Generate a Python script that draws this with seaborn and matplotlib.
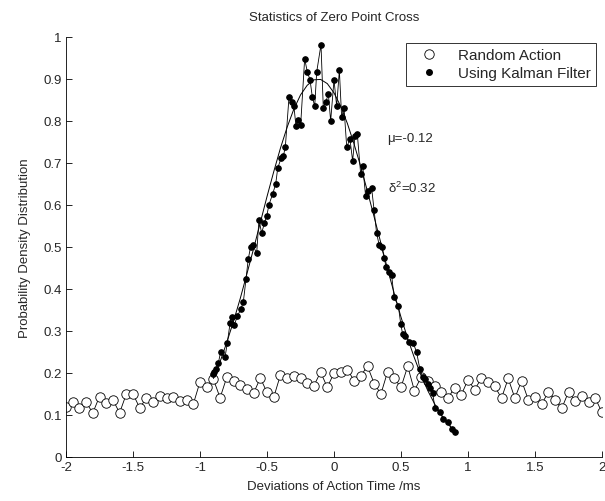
import numpy as np
import pandas as pd
import matplotlib
matplotlib.use("Agg")
import matplotlib.pyplot as plt
import seaborn as sns
from matplotlib.lines import Line2D

# Random action histogram (bin centres and densities)
random_x = [-2.00, -1.95, -1.90, -1.85, -1.80, -1.75, -1.70, -1.65, -1.60, -1.55,
            -1.50, -1.45, -1.40, -1.35, -1.30, -1.25, -1.20, -1.15, -1.10, -1.05,
            -1.00, -0.95, -0.90, -0.85, -0.80, -0.75, -0.70, -0.65, -0.60, -0.55,
            -0.50, -0.45, -0.40, -0.35, -0.30, -0.25, -0.20, -0.15, -0.10, -0.05,
            0.00, 0.05, 0.10, 0.15, 0.20, 0.25, 0.30, 0.35, 0.40, 0.45,
            0.50, 0.55, 0.60, 0.65, 0.70, 0.75, 0.80, 0.85, 0.90, 0.95,
            1.00, 1.05, 1.10, 1.15, 1.20, 1.25, 1.30, 1.35, 1.40, 1.45,
            1.50, 1.55, 1.60, 1.65, 1.70, 1.75, 1.80, 1.85, 1.90, 1.95, 2.00]
random_y = [0.118, 0.132, 0.116, 0.130, 0.105, 0.144, 0.128, 0.136, 0.105, 0.150,
            0.150, 0.117, 0.140, 0.132, 0.146, 0.140, 0.144, 0.133, 0.136, 0.126,
            0.179, 0.167, 0.185, 0.141, 0.190, 0.182, 0.172, 0.162, 0.152, 0.188,
            0.154, 0.142, 0.195, 0.187, 0.192, 0.188, 0.176, 0.170, 0.202, 0.166,
            0.200, 0.203, 0.208, 0.182, 0.194, 0.216, 0.175, 0.150, 0.203, 0.187,
            0.166, 0.216, 0.158, 0.190, 0.180, 0.170, 0.155, 0.140, 0.165, 0.148,
            0.184, 0.160, 0.188, 0.178, 0.168, 0.140, 0.187, 0.140, 0.182, 0.136,
            0.144, 0.126, 0.155, 0.136, 0.116, 0.155, 0.134, 0.146, 0.132, 0.140, 0.106]

# Kalman filter histogram
kalman_x = [-0.905, -0.893, -0.881, -0.863, -0.846, -0.813, -0.796, -0.776, -0.764, -0.744,
            -0.721, -0.696, -0.677, -0.657, -0.640, -0.622, -0.607, -0.577, -0.560, -0.540,
            -0.520, -0.502, -0.485, -0.458, -0.435, -0.420, -0.395, -0.378, -0.363, -0.336,
            -0.316, -0.299, -0.284, -0.266, -0.249, -0.219, -0.199, -0.179, -0.162, -0.144,
            -0.129, -0.097, -0.080, -0.062, -0.042, -0.025, 0.000, 0.020, 0.040, 0.057,
            0.075, 0.095, 0.119, 0.139, 0.157, 0.174, 0.199, 0.214, 0.236, 0.256,
            0.281, 0.299, 0.318, 0.337, 0.356, 0.376, 0.388, 0.410, 0.430, 0.448,
            0.480, 0.498, 0.512, 0.530, 0.562, 0.592, 0.617, 0.640, 0.662, 0.679,
            0.704, 0.716, 0.736, 0.754, 0.791, 0.816, 0.853, 0.878, 0.903]
kalman_y = [0.197, 0.202, 0.210, 0.224, 0.250, 0.238, 0.272, 0.318, 0.333, 0.315,
            0.335, 0.352, 0.368, 0.423, 0.471, 0.501, 0.505, 0.485, 0.565, 0.533,
            0.556, 0.574, 0.601, 0.626, 0.650, 0.688, 0.711, 0.716, 0.739, 0.856,
            0.846, 0.835, 0.788, 0.803, 0.790, 0.948, 0.917, 0.898, 0.858, 0.835,
            0.917, 0.982, 0.832, 0.845, 0.864, 0.800, 0.898, 0.835, 0.921, 0.809,
            0.830, 0.738, 0.757, 0.705, 0.765, 0.769, 0.674, 0.694, 0.621, 0.634,
            0.640, 0.588, 0.533, 0.505, 0.499, 0.473, 0.452, 0.440, 0.434, 0.380,
            0.360, 0.317, 0.293, 0.289, 0.273, 0.271, 0.249, 0.210, 0.190, 0.186,
            0.174, 0.165, 0.152, 0.116, 0.106, 0.090, 0.084, 0.067, 0.060]

# fitted curve
fit_x = [-0.90, -0.85, -0.80, -0.75, -0.70, -0.65, -0.60, -0.55, -0.50, -0.45,
         -0.40, -0.35, -0.30, -0.25, -0.20, -0.15, -0.10, -0.05, 0.00, 0.05,
         0.10, 0.15, 0.20, 0.25, 0.30, 0.35, 0.40, 0.45, 0.50, 0.55,
         0.60, 0.65, 0.70, 0.75, 0.80, 0.85, 0.90]
fit_y = [0.187, 0.227, 0.273, 0.323, 0.377, 0.436, 0.496, 0.558, 0.620, 0.679,
         0.735, 0.785, 0.828, 0.862, 0.885, 0.898, 0.899, 0.889, 0.867, 0.835,
         0.794, 0.745, 0.691, 0.632, 0.571, 0.509, 0.447, 0.389, 0.333, 0.282,
         0.236, 0.194, 0.158, 0.127, 0.101, 0.079, 0.061]

x_ticks = [-2, -1.5, -1, -0.5, 0, 0.5, 1, 1.5, 2]
x_ticklabels = ["-2", "-1.5", "-1", "-0.5", "0", "0.5", "1", "1.5", "2"]
y_ticks = [0, 0.1, 0.2, 0.3, 0.4, 0.5, 0.6, 0.7, 0.8, 0.9, 1]
y_ticklabels = ["0", "0.1", "0.2", "0.3", "0.4", "0.5", "0.6", "0.7", "0.8", "0.9", "1"]

sns.set_style("ticks")
plt.rcParams["font.family"] = ["Liberation Sans", "DejaVu Sans"]
plt.rcParams["mathtext.fontset"] = "custom"
plt.rcParams["mathtext.rm"] = "Liberation Sans"
plt.rcParams["xtick.direction"] = "in"
plt.rcParams["ytick.direction"] = "in"

fig = plt.figure(figsize=(6.05, 5.02), dpi=100)
ax = fig.add_axes([66 / 605, 44 / 502, 536 / 605, 420 / 502])

df_rand = pd.DataFrame({"x": random_x, "y": random_y})
df_kal = pd.DataFrame({"x": kalman_x, "y": kalman_y})
df_fit = pd.DataFrame({"x": fit_x, "y": fit_y})

sns.lineplot(data=df_rand, x="x", y="y", ax=ax, color="black", linewidth=0.6,
             marker="o", markersize=6.8, markerfacecolor="white",
             markeredgecolor="black", markeredgewidth=0.6, estimator=None)
sns.lineplot(data=df_fit, x="x", y="y", ax=ax, color="black", linewidth=0.7,
             estimator=None)
sns.lineplot(data=df_kal, x="x", y="y", ax=ax, color="black", linewidth=0.6,
             marker="o", markersize=4, markerfacecolor="black",
             markeredgecolor="black", estimator=None)

ax.set_xlim(-2, 2)
ax.set_ylim(0, 1)
ax.set_xticks(x_ticks)
ax.set_xticklabels(x_ticklabels)
ax.set_yticks(y_ticks)
ax.set_yticklabels(y_ticklabels)
ax.tick_params(labelsize=9.5, length=4, width=0.6, color="black", pad=3)
sns.despine(ax=ax)
for s in ["left", "bottom"]:
    ax.spines[s].set_linewidth(0.6)
    ax.spines[s].set_color("black")

ax.set_title("Statistics of Zero Point Cross", fontsize=9.5, pad=12)
ax.set_xlabel("Deviations of Action Time /ms", fontsize=9.5, labelpad=5)
ax.set_ylabel("Probability Density Distribution", fontsize=9.5, labelpad=9)

ax.text(0.40, 0.76, "\u03bc=-0.12", fontsize=9.5, ha="left", va="center")
ax.text(0.40, 0.643, "\u03b4$^{\\mathrm{2}}$=0.32", fontsize=9.5, ha="left", va="center")

handles = [
    Line2D([], [], linestyle="none", marker="o", markersize=6.8,
           markerfacecolor="white", markeredgecolor="black", markeredgewidth=0.6),
    Line2D([], [], linestyle="none", marker="o", markersize=4,
           markerfacecolor="black", markeredgecolor="black"),
]
leg = ax.legend(handles, ["Random Action", "Using Kalman Filter"], loc="upper right",
                fontsize=11, frameon=True, fancybox=False, borderaxespad=0.4,
                handlelength=2.2, handletextpad=0.8, borderpad=0.35,
                labelspacing=0.25)
leg.get_frame().set_edgecolor("black")
leg.get_frame().set_linewidth(0.7)

fig.savefig("out.png", dpi=100, facecolor="white")
